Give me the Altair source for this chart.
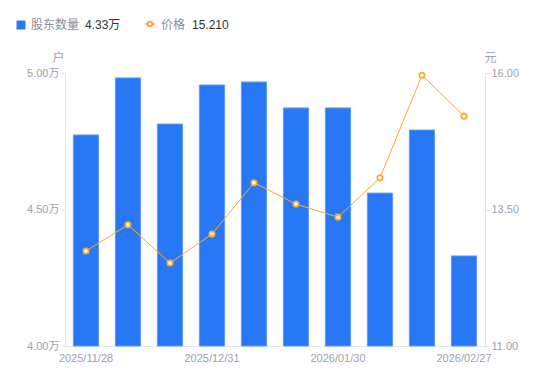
import altair as alt
import pandas as pd

dates = ["2025/11/28", "2025/12/10", "2025/12/19", "2025/12/31", "2026/01/09",
         "2026/01/20", "2026/01/30", "2026/02/10", "2026/02/13", "2026/02/27"]
holders = [4.773, 4.982, 4.813, 4.956, 4.967, 4.872, 4.872, 4.560, 4.791, 4.330]
prices = [12.74, 13.22, 12.52, 13.05, 13.99, 13.60, 13.36, 14.08, 15.96, 15.21]
shown_dates = ["2025/11/28", "2025/12/31", "2026/01/30", "2026/02/27"]

BLUE = "#2878F5"
ORANGE = "#FBAA2A"
AXIS_GRAY = "#9EA1AE"
DOMAIN = "#E3E4E8"
FONT = "Liberation Sans, Noto Sans CJK SC"

df = pd.DataFrame({"date": dates, "holders": holders, "price": prices})
df["base"] = 4.0

x = alt.X("date:O", sort=None,
          scale=alt.Scale(paddingInner=0.4, paddingOuter=0.2),
          axis=alt.Axis(title=None, values=shown_dates, labelAngle=0, ticks=False,
                        domainColor=DOMAIN, labelColor=AXIS_GRAY, labelFontSize=11,
                        labelFont=FONT, labelPadding=6))

bars = alt.Chart(df).mark_bar(color=BLUE, stroke="#5C9BF8", strokeWidth=1).encode(
    x=x,
    y=alt.Y("holders:Q", scale=alt.Scale(domain=[4.0, 5.0], nice=False, zero=False, clamp=True),
            axis=alt.Axis(title="户", values=[4.0, 4.5, 5.0],
                          labelExpr="format(datum.value, '.2f') + '万'",
                          grid=False, domainColor=DOMAIN, tickColor=DOMAIN, tickSize=4,
                          labelColor=AXIS_GRAY, labelFontSize=11, labelFont=FONT,
                          labelPadding=2,
                          titleAngle=0, titleX=-7, titleY=-16, titleAlign="center",
                          titleBaseline="middle", titleColor=AXIS_GRAY, titleFontSize=12,
                          titleFontWeight="normal", titleFont=FONT)),
    y2="base:Q",
)

line = alt.Chart(df).mark_line(color=ORANGE, strokeWidth=1).encode(
    x=x,
    y=alt.Y("price:Q", scale=alt.Scale(domain=[11, 16], nice=False, zero=False),
            axis=alt.Axis(title="元", orient="right", values=[11, 13.5, 16], format=".2f",
                          grid=False, domainColor=DOMAIN, tickColor=DOMAIN, tickSize=4,
                          labelColor=AXIS_GRAY, labelFontSize=11, labelFont=FONT,
                          labelPadding=2,
                          titleAngle=0, titleX=5, titleY=-16, titleAlign="center",
                          titleBaseline="middle", titleColor=AXIS_GRAY, titleFontSize=12,
                          titleFontWeight="normal", titleFont=FONT)),
)

points = alt.Chart(df).mark_point(shape="circle", filled=False, fill="white", fillOpacity=1,
                                  color=ORANGE, strokeWidth=1.8, size=28, opacity=1).encode(
    x=x,
    y=alt.Y("price:Q", scale=alt.Scale(domain=[11, 16], nice=False, zero=False), axis=None),
)

# custom legend
leg = pd.DataFrame({"k": [0]})
last_h = f"{holders[-1]:.2f}万"
last_p = f"{prices[-1]:.3f}"

sq = alt.Chart(leg).mark_square(color=BLUE, size=80, opacity=1).encode(
    x=alt.value(-44), y=alt.value(-48))
t1 = alt.Chart(leg).mark_text(text="股东数量", align="left", baseline="middle",
                              fontSize=12, color="#8A8D99", font=FONT).encode(
    x=alt.value(-34), y=alt.value(-48))
t2 = alt.Chart(leg).mark_text(text=last_h, align="left", baseline="middle",
                              fontSize=12, color="#333333", font=FONT).encode(
    x=alt.value(20), y=alt.value(-48))
lg = alt.Chart(leg).mark_rule(color=ORANGE, strokeWidth=1.5).encode(
    x=alt.value(80), x2=alt.value(90), y=alt.value(-49))
lp = alt.Chart(leg).mark_point(shape="circle", filled=False, fill="white", fillOpacity=1,
                               color=ORANGE, strokeWidth=1.8, size=22, opacity=1).encode(
    x=alt.value(85), y=alt.value(-49))
t3 = alt.Chart(leg).mark_text(text="价格", align="left", baseline="middle",
                              fontSize=12, color="#8A8D99", font=FONT).encode(
    x=alt.value(96), y=alt.value(-48))
t4 = alt.Chart(leg).mark_text(text=last_p, align="left", baseline="middle",
                              fontSize=12, color="#333333", font=FONT).encode(
    x=alt.value(127), y=alt.value(-48))

chart = alt.layer(bars, line, points, sq, t1, t2, lg, lp, t3, t4).resolve_scale(
    y="independent"
).properties(
    width=420, height=273,
    autosize=alt.AutoSizeParams(type="none"),
    padding={"left": 57, "top": 65, "right": 50, "bottom": 30},
).configure_view(stroke=None)

chart.save("out.html", embed_options={"renderer": "svg", "actions": False})
